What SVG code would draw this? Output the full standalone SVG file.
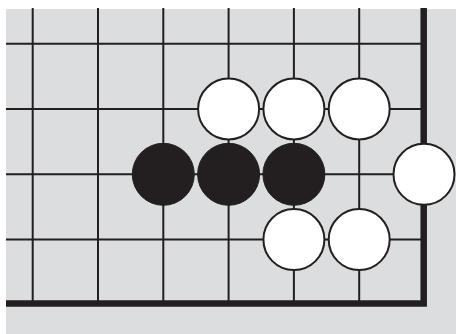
<svg xmlns="http://www.w3.org/2000/svg" width="456" height="334" viewBox="0 0 456 334">
<style>
.g{stroke:#231f20;stroke-width:2;fill:none}
.e{stroke:#231f20;stroke-width:6.5;fill:none;stroke-linecap:butt;stroke-linejoin:miter}
.b{fill:#231f20;stroke:#231f20;stroke-width:1}
.w{fill:#fff;stroke:#231f20;stroke-width:2}
</style>
<rect x="6" y="9" width="450" height="325" fill="#dcdddf"/>
<g id="grid">
<path class="g" d="M32.7 8V303.5M98 8V303.5M163.3 8V303.5M228.6 8V303.5M293.9 8V303.5M359.2 8V303.5M6 43.7H423.5M6 109H423.5M6 174.3H423.5M6 239.6H423.5"/>
<path class="e" d="M423.7 8V303.6H6"/>
</g>
<g id="black-stones">
<circle class="b" cx="163.3" cy="174.3" r="31"/>
<circle class="b" cx="228.6" cy="174.3" r="31"/>
<circle class="b" cx="293.9" cy="174.3" r="31"/>
</g>
<g id="white-stones">
<circle class="w" cx="228.6" cy="109" r="30.5"/>
<circle class="w" cx="293.9" cy="109" r="30.5"/>
<circle class="w" cx="359.2" cy="109" r="30.5"/>
<circle class="w" cx="424" cy="174.3" r="30.5"/>
<circle class="w" cx="293.9" cy="239.6" r="30.5"/>
<circle class="w" cx="359.2" cy="239.6" r="30.5"/>
</g>
</svg>
